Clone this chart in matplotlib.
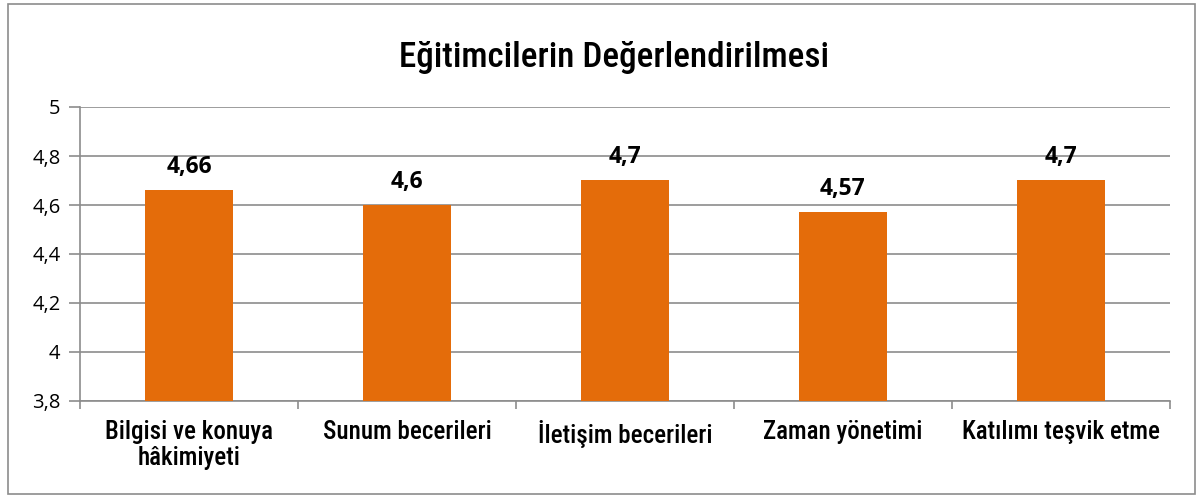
import matplotlib.pyplot as plt
from matplotlib.patches import Rectangle
from matplotlib import font_manager

categories = ['Bilgisi ve konuya\nhâkimiyeti', 'Sunum becerileri', 'İletişim becerileri',
              'Zaman yönetimi', 'Katılımı teşvik etme']
values = [4.66, 4.6, 4.7, 4.57, 4.7]
labels = ['4,66', '4,6', '4,7', '4,57', '4,7']
yticks = [3.8, 4.0, 4.2, 4.4, 4.6, 4.8, 5.0]
ytick_labels = ['3,8', '4', '4,2', '4,4', '4,6', '4,8', '5']

cond = 'Roboto'
names = {f.name for f in font_manager.fontManager.ttflist}
for n in ['Roboto Condensed', 'Open Sans Condensed', 'Noto Sans Condensed']:
    if n in names:
        cond = n
        break

fig = plt.figure(figsize=(11.99, 4.98), dpi=100)
fig.patches.append(Rectangle((8 / 1199, 4 / 498), 1187 / 1199, 490 / 498,
                             transform=fig.transFigure, fill=False,
                             edgecolor='#8c8c8c', linewidth=1.2))
ax = fig.add_axes([80 / 1199, 1 - 401 / 498, 1090 / 1199, 294 / 498])

x = range(len(categories))
ax.bar(x, [v - 3.8 for v in values], bottom=3.8, width=0.4, color='#E46C0A', zorder=3)
for i, v in enumerate(values):
    ax.text(i, v + 0.045, labels[i], ha='center', va='bottom', fontsize=16.5,
            fontweight='bold', family='Open Sans')

ax.set_ylim(3.8, 5.0)
ax.set_xlim(-0.5, len(categories) - 0.5)
ax.set_yticks(yticks)
ax.set_yticklabels(ytick_labels, family='Open Sans', fontsize=14.5)
ax.yaxis.grid(True, color='#8c8c8c', linewidth=1.2, zorder=0)
ax.tick_params(axis='y', length=8, color='#8c8c8c', width=1.2, pad=6)

ax.set_xticks([i + 0.5 for i in range(-1, len(categories))], minor=False)
ax.set_xticklabels([])
ax.set_xticks(list(x), minor=True)
ax.set_xticklabels(categories, minor=True, family=cond, fontsize=18, fontstretch='condensed',
                   fontweight='medium', linespacing=1.1)
ax.tick_params(axis='x', which='major', length=6, color='#8c8c8c', width=1.2)
ax.tick_params(axis='x', which='minor', length=0, pad=14)

for s in ['top', 'right']:
    ax.spines[s].set_visible(False)
for s in ['left', 'bottom']:
    ax.spines[s].set_color('#8c8c8c')
    ax.spines[s].set_linewidth(1.2)

fig.text(614 / 1199, 1 - 57 / 498, 'Eğitimcilerin Değerlendirilmesi', ha='center', va='center',
         fontsize=25.3, family=cond, fontstretch='condensed', fontweight='medium')

fig.savefig('out.png', dpi=100)
